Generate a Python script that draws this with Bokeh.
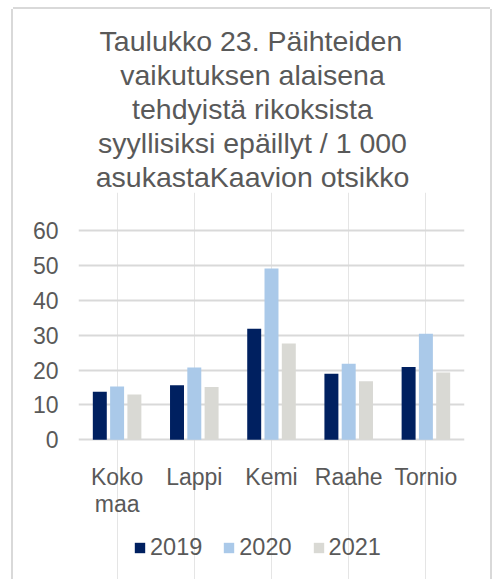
from bokeh.plotting import figure
from bokeh.models import (ColumnDataSource, FactorRange, Range1d, FixedTicker, Title, Legend,
                          LegendItem)
from bokeh.transform import dodge
from bokeh.core.properties import value
from bokeh.embed import file_html
from bokeh.resources import INLINE

categories = ["Koko maa", "Lappi", "Kemi", "Raahe", "Tornio"]
years = ["2019", "2020", "2021"]
v2019 = [13.8, 15.6, 31.8, 18.9, 20.9]
v2020 = [15.3, 20.7, 49.1, 21.8, 30.4]
v2021 = [13.0, 15.1, 27.6, 16.8, 19.3]
y_ticks = [0, 10, 20, 30, 40, 50, 60]
title_lines = ["Taulukko 23. Päihteiden", "vaikutuksen alaisena",
               "tehdyistä rikoksista", "syyllisiksi epäillyt / 1 000",
               "asukastaKaavion otsikko"]
colors = ["#002060", "#aac9e9", "#d9d9d4"]

FONT = "Liberation Sans"
TXT = "#595959"
GRID = "#d9d9d9"

src = ColumnDataSource(dict(cat=categories, y2019=v2019, y2020=v2020, y2021=v2021))

# category labels wrapped onto two lines
first_words = [c.split(" ")[0] for c in categories]
wrapped = [c for c in categories if " " in c]
rest_words = [" ".join(c.split(" ")[1:]) for c in wrapped]

p = figure(width=477, height=570,
           x_range=FactorRange(*categories), y_range=Range1d(-40.04, 70.88),
           output_backend="svg", toolbar_location=None, x_axis_location=None,
           min_border_left=65, min_border_right=26, min_border_top=183, min_border_bottom=0)
p.styles = {"transform": "translate(13px, 9px)",
            "box-shadow": "-2px 0 0 0 #d9d9d9, 2px 0 0 0 #d9d9d9, 0 -2px 0 0 #d9d9d9"}
p.outline_line_color = None
p.background_fill_color = "white"
p.border_fill_color = "white"

offsets = [-0.224, 0.0, 0.224]
renderers = []
for yr, col, off in zip(years, colors, offsets):
    r = p.vbar(x=dodge("cat", off, range=p.x_range), top="y" + yr, width=0.181, source=src,
               fill_color=col, line_color=None)
    renderers.append(r)

p.ygrid.grid_line_color = GRID
p.ygrid.grid_line_width = 2
p.ygrid.ticker = FixedTicker(ticks=y_ticks)
p.yaxis.ticker = FixedTicker(ticks=y_ticks)
p.yaxis.axis_line_color = None
p.yaxis.major_tick_line_color = None
p.yaxis.minor_tick_line_color = None
p.yaxis.major_tick_out = 0
p.yaxis.major_label_standoff = 20
p.yaxis.major_label_text_font = FONT
p.yaxis.major_label_text_font_size = "23px"
p.yaxis.major_label_text_color = TXT

p.text(x=categories, y=-10.52, text=first_words, text_align="center",
       text_baseline="alphabetic", text_font=value(FONT), text_font_size="23px",
       text_color=TXT)
p.text(x=wrapped, y=-18.34, text=rest_words, text_align="center",
       text_baseline="alphabetic", text_font=value(FONT), text_font_size="23px",
       text_color=TXT)

title_offsets = [21.1, 41.7, 53.6, 19.6, 17.2]
for line, off in reversed(list(zip(title_lines, title_offsets))):
    p.add_layout(Title(text=line, align="left", offset=off, standoff=0,
                       text_font=FONT, text_font_size="28.5px", text_font_style="normal",
                       text_color=TXT), "above")

legend = Legend(items=[LegendItem(label=yr, renderers=[r]) for yr, r in zip(years, renderers)],
                orientation="horizontal", location=(55, 18),
                glyph_width=13, glyph_height=13, label_standoff=4, spacing=20,
                label_text_font=FONT, label_text_font_size="23.5px", label_text_color=TXT,
                border_line_alpha=0, background_fill_alpha=0, padding=0, margin=0)
p.add_layout(legend, "center")

open("out.html", "w").write(file_html(p, INLINE))
